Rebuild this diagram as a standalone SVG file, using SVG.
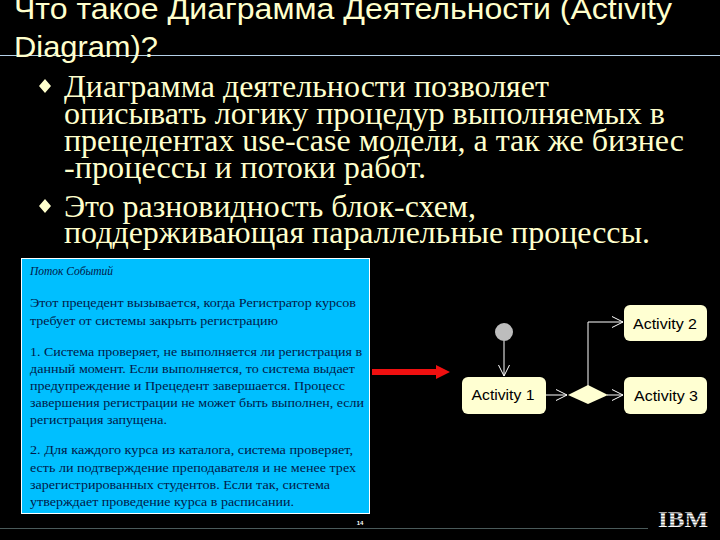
<svg xmlns="http://www.w3.org/2000/svg" width="720" height="540" viewBox="0 0 720 540">
<style>
.t{font-family:"Liberation Sans",sans-serif;font-size:30px;fill:#ffffcc}
.b{font-family:"Liberation Serif",serif;font-size:31px;fill:#ffffcc}
.s{font-family:"Liberation Serif",serif;font-size:11.5px;fill:#001a4a}
.n{fill:#ffffd2;rx:6px}
.l{font-family:"Liberation Sans",sans-serif;font-size:15.5px;fill:#000;text-anchor:middle}
.c{fill:none;stroke:#fff;stroke-width:1}
</style>
<defs>
<marker id="o" markerUnits="userSpaceOnUse" markerWidth="14" markerHeight="14" refX="12" refY="7" orient="auto"><path d="M1 1.5L12 7L1 12.5" fill="none" stroke="#fff" stroke-width="1"/></marker>
</defs>
<rect width="720" height="540" fill="#000"/>
<rect x="0" y="55" width="720" height="1" fill="#b4d0e8"/>
<g id="title">
<text class="t" x="14" y="19" textLength="658" lengthAdjust="spacingAndGlyphs">Что такое Диаграмма Деятельности (Activity</text>
<text class="t" x="14" y="57" textLength="144" lengthAdjust="spacingAndGlyphs">Diagram)?</text>
</g>
<g id="bullets">
<path d="M45 79L51 86L45 93L39 86Z M45 199L51 206L45 213L39 206Z" fill="#ffffcc"/>
<text class="b" x="64" y="97" textLength="485" lengthAdjust="spacingAndGlyphs">Диаграмма деятельности позволяет</text>
<text class="b" x="64" y="124" textLength="601" lengthAdjust="spacingAndGlyphs">описывать логику процедур выполняемых в</text>
<text class="b" x="64" y="151" textLength="620" lengthAdjust="spacingAndGlyphs">прецедентах use-case модели, а так же бизнес</text>
<text class="b" x="64" y="178" textLength="362" lengthAdjust="spacingAndGlyphs">-процессы и потоки работ.</text>
<text class="b" x="64" y="217" textLength="412" lengthAdjust="spacingAndGlyphs">Это разновидность блок-схем,</text>
<text class="b" x="64" y="243" textLength="586" lengthAdjust="spacingAndGlyphs">поддерживающая параллельные процессы.</text>
</g>
<g id="flow-box">
<rect x="21.5" y="258.5" width="348" height="255" fill="#00bfff" stroke="#fff"/>
<text class="s" x="30" y="275" font-style="italic">Поток Событий</text>
<text class="s" x="30" y="307" textLength="326" lengthAdjust="spacingAndGlyphs">Этот прецедент вызывается, когда Регистратор курсов</text>
<text class="s" x="30" y="325" textLength="248" lengthAdjust="spacingAndGlyphs">требует от системы закрыть регистрацию</text>
<text class="s" x="30" y="356" textLength="332" lengthAdjust="spacingAndGlyphs">1. Система проверяет, не выполняется ли регистрация в</text>
<text class="s" x="30" y="373" textLength="325" lengthAdjust="spacingAndGlyphs">данный момент. Если выполняется, то система выдает</text>
<text class="s" x="30" y="390" textLength="315" lengthAdjust="spacingAndGlyphs">предупреждение и Прецедент завершается.  Процесс</text>
<text class="s" x="30" y="407" textLength="334" lengthAdjust="spacingAndGlyphs">завершения регистрации не может быть выполнен, если</text>
<text class="s" x="30" y="424" textLength="137" lengthAdjust="spacingAndGlyphs">регистрация запущена.</text>
<text class="s" x="30" y="454" textLength="323" lengthAdjust="spacingAndGlyphs">2. Для каждого курса из каталога, система проверяет,</text>
<text class="s" x="30" y="472" textLength="326" lengthAdjust="spacingAndGlyphs">есть ли подтверждение преподавателя и не менее трех</text>
<text class="s" x="30" y="489" textLength="300" lengthAdjust="spacingAndGlyphs">зарегистрированных студентов. Если так, система</text>
<text class="s" x="30" y="506" textLength="264" lengthAdjust="spacingAndGlyphs">утверждает проведение курса в расписании.</text>
</g>
<g id="red-arrow"><path d="M372 369H436V365L450 372L436 379V375H372Z" fill="#f01010"/></g>
<g id="connectors">
<path class="c" d="M504 341V376" marker-end="url(#o)"/>
<path class="c" d="M546 395H567" marker-end="url(#o)"/>
<path class="c" d="M607 395H623" marker-end="url(#o)"/>
<path class="c" d="M588 386V322H623" marker-end="url(#o)"/>
</g>
<g id="start"><circle cx="504" cy="332" r="9" fill="#bdbdbd"/></g>
<g id="activity-1"><rect class="n" x="462" y="377" width="84" height="37"/><text class="l" x="503" y="400" textLength="63" lengthAdjust="spacingAndGlyphs">Activity 1</text></g>
<g id="decision"><path d="M568 395L588 385L608 395L588 404Z" fill="#ffffd2"/></g>
<g id="activity-2"><rect class="n" x="624" y="305" width="83" height="36"/><text class="l" x="665" y="329" textLength="64" lengthAdjust="spacingAndGlyphs">Activity 2</text></g>
<g id="activity-3"><rect class="n" x="624" y="377" width="83" height="37"/><text class="l" x="666" y="401" textLength="64" lengthAdjust="spacingAndGlyphs">Activity 3</text></g>
<g id="footer">
<rect x="0" y="528" width="648" height="1" fill="#4a5a5a"/>
<text x="360" y="525" font-family="Liberation Sans,sans-serif" font-size="6px" font-weight="bold" fill="#fff" text-anchor="middle">14</text>
<text x="683" y="527" font-family="Liberation Serif,serif" font-size="24px" font-weight="bold" fill="#fff" text-anchor="middle" textLength="50" lengthAdjust="spacingAndGlyphs">IBM</text>
<path d="M656 513H712M656 516H712M656 519H712M656 522H712M656 525H712" stroke="#000" stroke-width="0.7"/>
</g>
</svg>
